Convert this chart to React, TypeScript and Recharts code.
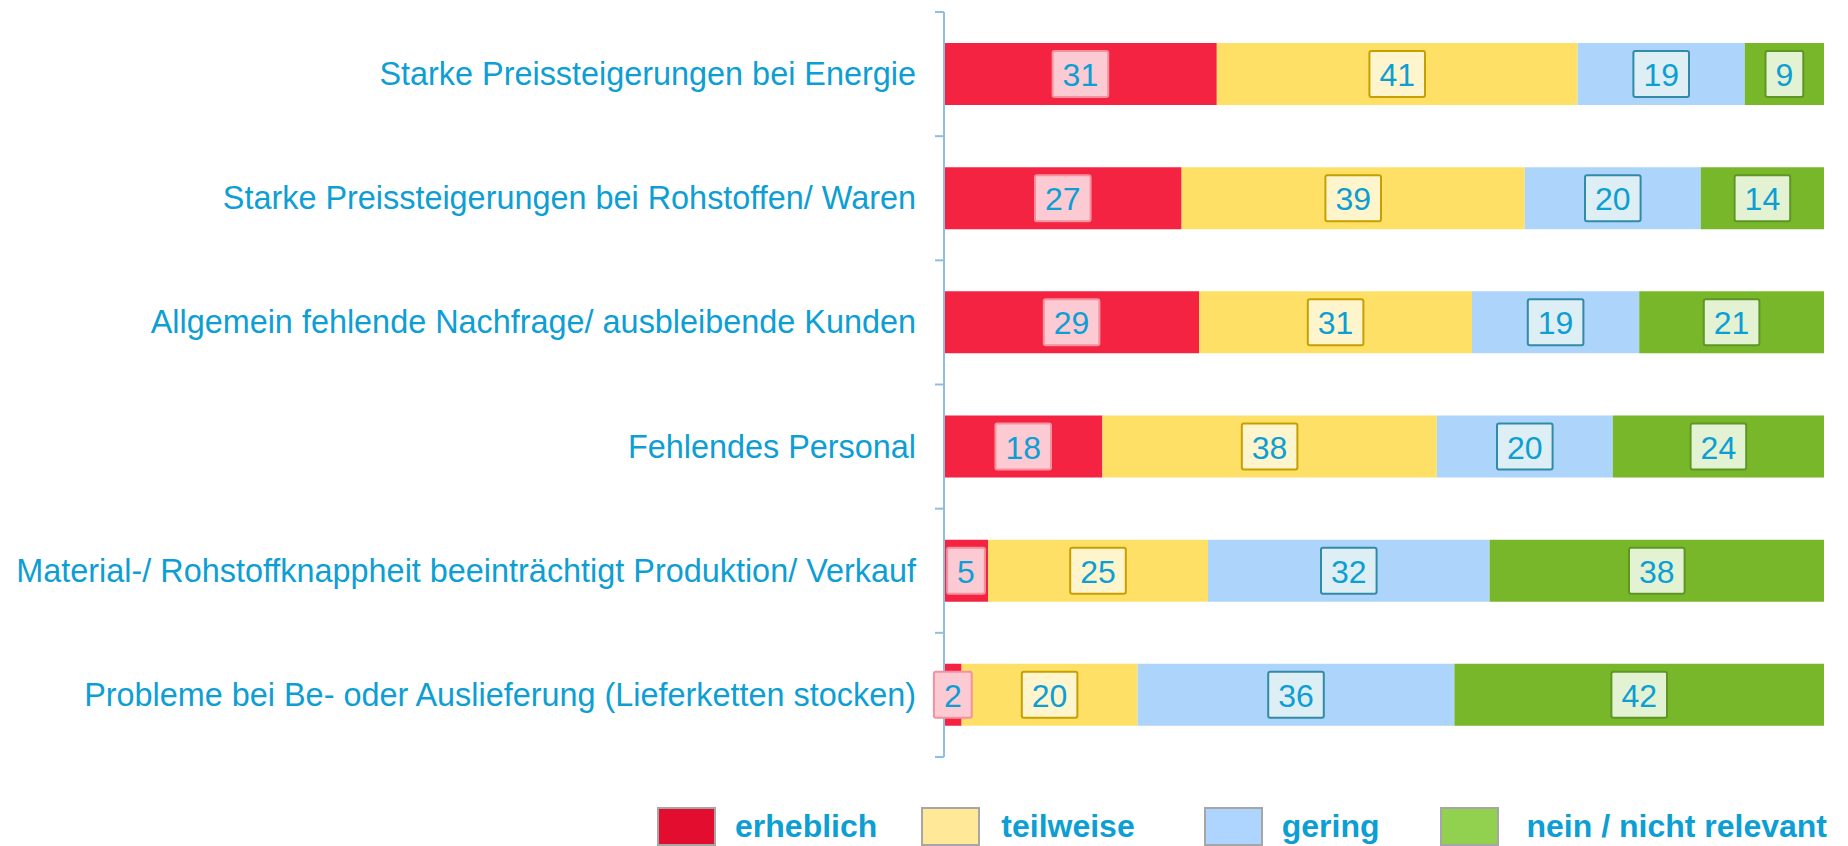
import React from 'react'
import { BarChart, Bar, XAxis, YAxis, Legend, LabelList } from 'recharts'

// categories (top to bottom)
const categories = [
  'Starke Preissteigerungen bei Energie',
  'Starke Preissteigerungen bei Rohstoffen/ Waren',
  'Allgemein fehlende Nachfrage/ ausbleibende Kunden',
  'Fehlendes Personal',
  'Material-/ Rohstoffknappheit beeinträchtigt Produktion/ Verkauf',
  'Probleme bei Be- oder Auslieferung (Lieferketten stocken)',
]

// shares in percent
const erheblich = [31, 27, 29, 18, 5, 2]
const teilweise = [41, 39, 31, 38, 25, 20]
const gering = [19, 20, 19, 20, 32, 36]
const nichtRelevant = [9, 14, 21, 24, 38, 42]

const FONT = '"Liberation Sans", Arial, sans-serif'
const TEXT_BLUE = '#0D9ED3'
const AXIS_BLUE = '#8FBEE0'

// gapBefore / textGap: legend spacing, not even in the original
const SERIES = [
  { key: 'erheblich', name: 'erheblich', bar: '#F42341', legend: '#E30D2F', boxFill: '#FCCAD3', boxStroke: '#F4919F', gapBefore: 0, textGap: 19 },
  { key: 'teilweise', name: 'teilweise', bar: '#FFE066', legend: '#FFE999', boxFill: '#FFF5CC', boxStroke: '#C5A000', gapBefore: 44, textGap: 21 },
  { key: 'gering', name: 'gering', bar: '#ADD5FC', legend: '#ADD5FF', boxFill: '#DDEEF4', boxStroke: '#318AA8', gapBefore: 69, textGap: 19 },
  { key: 'nicht', name: 'nein / nicht relevant', bar: '#79B72A', legend: '#92D050', boxFill: '#E4F2D4', boxStroke: '#5E9626', gapBefore: 61, textGap: 27 },
]

const rows = categories.map((name, i) => ({
  name,
  erheblich: erheblich[i],
  teilweise: teilweise[i],
  gering: gering[i],
  nicht: nichtRelevant[i],
}))

// y-axis label + boundary tick marks (ticks sit between categories)
function CategoryTick(props: any) {
  const { x, y, payload, index } = props
  const half = payload && typeof payload.offset === 'number' && payload.offset > 0 ? payload.offset : 62.08
  return (
    <g>
      <line x1={x - 9} x2={x} y1={y - half} y2={y - half} stroke={AXIS_BLUE} strokeWidth={2} />
      {index === categories.length - 1 && (
        <line x1={x - 9} x2={x} y1={y + half} y2={y + half} stroke={AXIS_BLUE} strokeWidth={2} />
      )}
      <text
        x={x - 28}
        y={y}
        textAnchor="end"
        dominantBaseline="central"
        fill={TEXT_BLUE}
        fontSize={32.4}
        fontFamily={FONT}
      >
        {payload.value}
      </text>
    </g>
  )
}

function makeValueLabel(fill: string, stroke: string) {
  return function ValueLabel(props: any) {
    const { x, y, width, height, value } = props
    const txt = String(value)
    const w = txt.length * 17.8 + 20
    const h = 46
    const cx = x + width / 2
    const cy = y + height / 2
    return (
      <g>
        <rect x={cx - w / 2} y={cy - h / 2} width={w} height={h} fill={fill} stroke={stroke} strokeWidth={2} rx={2} />
        <text
          x={cx}
          y={cy + 1}
          textAnchor="middle"
          dominantBaseline="central"
          fill={TEXT_BLUE}
          fontSize={32}
          fontFamily={FONT}
        >
          {txt}
        </text>
      </g>
    )
  }
}

function LegendContent() {
  return (
    <div
      style={{
        display: 'flex',
        justifyContent: 'flex-end',
        alignItems: 'center',
        height: 42,
        paddingRight: 21,
        fontFamily: FONT,
      }}
    >
      {SERIES.map((s) => (
        <div key={s.key} style={{ display: 'flex', alignItems: 'center', marginLeft: s.gapBefore }}>
          <span
            style={{
              display: 'inline-block',
              width: 55,
              height: 35,
              background: s.legend,
              border: '2px solid #A6A6A6',
              marginRight: s.textGap,
            }}
          />
          <span style={{ color: TEXT_BLUE, fontSize: 32, fontWeight: 700, lineHeight: '40px' }}>{s.name}</span>
        </div>
      ))}
    </div>
  )
}

export default function App() {
  return (
    <div style={{ position: 'absolute', left: 0, top: 0, width: 1848, height: 846, background: '#fff', fontFamily: FONT }}>
      <BarChart
        width={1848}
        height={846}
        data={rows}
        layout="vertical"
        margin={{ top: 12, right: 24, bottom: 47, left: 0 }}
        barSize={62}
      >
        <XAxis type="number" domain={[0, 100]} hide />
        <YAxis
          type="category"
          dataKey="name"
          width={944}
          tickLine={false}
          tickSize={0}
          tickMargin={0}
          axisLine={{ stroke: AXIS_BLUE, strokeWidth: 2 }}
          tick={<CategoryTick />}
          interval={0}
        />
        <Legend
          verticalAlign="bottom"
          content={<LegendContent />}
          wrapperStyle={{ top: 805, left: 0, width: 1848, height: 42 }}
        />
        {SERIES.map((s) => {
          const Lbl = makeValueLabel(s.boxFill, s.boxStroke)
          return (
            <Bar key={s.key} dataKey={s.key} name={s.name} stackId="a" fill={s.bar} isAnimationActive={false}>
              <LabelList dataKey={s.key} content={<Lbl />} />
            </Bar>
          )
        })}
      </BarChart>
    </div>
  )
}
